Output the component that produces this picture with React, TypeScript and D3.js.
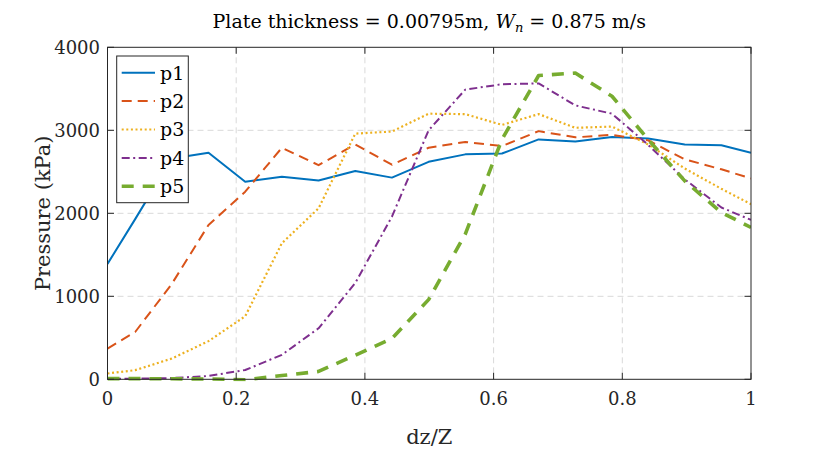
import React, { useEffect, useRef } from 'react';
import * as d3 from 'd3';

// dz/Z stations (wall ends + tap positions)
const dzZ = [0, 0.043, 0.1, 0.157, 0.214, 0.271, 0.328, 0.385, 0.442, 0.499, 0.556, 0.613, 0.67, 0.727, 0.784, 0.84, 0.897, 0.954, 1];

const p1 = [1390, 1930, 2660, 2730, 2380, 2440, 2395, 2510, 2430, 2620, 2710, 2720, 2890, 2865, 2920, 2900, 2830, 2820, 2730];
const p2 = [370, 570, 1150, 1860, 2260, 2790, 2580, 2830, 2585, 2790, 2860, 2810, 2990, 2915, 2945, 2880, 2650, 2530, 2420];
const p3 = [70, 110, 250, 460, 760, 1640, 2060, 2960, 2985, 3200, 3195, 3065, 3195, 3030, 3045, 2830, 2540, 2295, 2110];
const p4 = [8, 8, 15, 40, 112, 295, 615, 1160, 1960, 3000, 3490, 3555, 3565, 3300, 3200, 2825, 2410, 2070, 1920];
const p5 = [8, 8, 6, 4, -5, 45, 95, 290, 490, 960, 1750, 2890, 3660, 3690, 3410, 2890, 2390, 2010, 1830];

const seriesNames = ['p1', 'p2', 'p3', 'p4', 'p5'];
const seriesValues = [p1, p2, p3, p4, p5];

const xTicks = [0, 0.2, 0.4, 0.6, 0.8, 1];
const yTicks = [0, 1000, 2000, 3000, 4000];

const colors = ['#0072BD', '#D95319', '#EDB120', '#7E2F8E', '#77AC30'];
const dashes = ['none', '10,6', '2,2.6', '8,3.5,2,3.5', '12,9'];
const widths = [2, 2, 2.2, 2, 3.6];

const FONT = "'DejaVu Serif', serif";
const AXIS = '#262626';

const App: React.FC = () => {
  const svgRef = useRef<SVGSVGElement>(null);

  useEffect(() => {
    if (!svgRef.current) return;
    const svg = d3.select(svgRef.current);
    svg.selectAll('*').remove();

    const left = 107.5;
    const right = 751;
    const top = 47.3;
    const bottom = 379.3;

    const x = d3.scaleLinear().domain([0, 1]).range([left, right]);
    const y = d3.scaleLinear().domain([0, 4000]).range([bottom, top]);

    svg.append('rect').attr('width', 830).attr('height', 457).attr('fill', 'white');

    // grid
    const grid = svg.append('g').attr('stroke', '#d9d9d9').attr('stroke-width', 1).attr('stroke-dasharray', '6,4');
    xTicks.slice(1, -1).forEach((t) => {
      grid.append('line').attr('x1', x(t)).attr('x2', x(t)).attr('y1', top).attr('y2', bottom);
    });
    yTicks.slice(1, -1).forEach((t) => {
      grid.append('line').attr('x1', left).attr('x2', right).attr('y1', y(t)).attr('y2', y(t));
    });

    // series
    svg.append('clipPath').attr('id', 'plotclip')
      .append('rect').attr('x', left).attr('y', top - 2).attr('width', right - left).attr('height', bottom - top + 4);

    const line = d3.line<number>().x((_d, i) => x(dzZ[i])).y((d) => y(d));
    const lines = svg.append('g').attr('clip-path', 'url(#plotclip)');
    seriesValues.forEach((vals, i) => {
      lines.append('path')
        .attr('d', line(vals)!)
        .attr('fill', 'none')
        .attr('stroke', colors[i])
        .attr('stroke-width', widths[i])
        .attr('stroke-dasharray', dashes[i])
        .attr('stroke-linejoin', 'round');
    });

    // axes box + inward ticks on all sides
    const tickLen = 6.5;
    svg.append('rect')
      .attr('x', left).attr('y', top).attr('width', right - left).attr('height', bottom - top)
      .attr('fill', 'none').attr('stroke', AXIS).attr('stroke-width', 1);
    const ticks = svg.append('g').attr('stroke', AXIS).attr('stroke-width', 1);
    xTicks.forEach((t) => {
      ticks.append('line').attr('x1', x(t)).attr('x2', x(t)).attr('y1', bottom).attr('y2', bottom - tickLen);
      ticks.append('line').attr('x1', x(t)).attr('x2', x(t)).attr('y1', top).attr('y2', top + tickLen);
    });
    yTicks.forEach((t) => {
      ticks.append('line').attr('x1', left).attr('x2', left + tickLen).attr('y1', y(t)).attr('y2', y(t));
      ticks.append('line').attr('x1', right).attr('x2', right - tickLen).attr('y1', y(t)).attr('y2', y(t));
    });

    const txt = svg.append('g').attr('font-family', FONT).attr('fill', AXIS);
    xTicks.forEach((t) => {
      txt.append('text').attr('x', x(t)).attr('y', 405).attr('text-anchor', 'middle')
        .attr('font-size', 18).text(d3.format('')(t));
    });
    yTicks.forEach((t) => {
      txt.append('text').attr('x', left - 7.5).attr('y', y(t)).attr('dy', '0.36em').attr('text-anchor', 'end')
        .attr('font-size', 18).text(String(t));
    });

    // axis labels
    txt.append('text').attr('x', (left + right) / 2).attr('y', 444).attr('text-anchor', 'middle')
      .attr('font-size', 21).text('dz/Z');
    txt.append('text')
      .attr('transform', `translate(50,${(top + bottom) / 2}) rotate(-90)`)
      .attr('text-anchor', 'middle').attr('font-size', 21).text('Pressure (kPa)');

    // title
    const title = svg.append('text').attr('x', (left + right) / 2).attr('y', 28)
      .attr('text-anchor', 'middle').attr('font-family', FONT).attr('font-size', 19).attr('fill', '#000');
    title.append('tspan').text('Plate thickness = 0.00795m, ');
    title.append('tspan').attr('font-style', 'italic').text('W');
    title.append('tspan').attr('font-style', 'italic').attr('font-size', 13).attr('dy', 4).text('n');
    title.append('tspan').attr('dy', -4).text(' = 0.875 m/s');

    // legend
    const lg = svg.append('g');
    lg.append('rect').attr('x', 116.7).attr('y', 56).attr('width', 71.6).attr('height', 146.7)
      .attr('fill', 'white').attr('stroke', AXIS).attr('stroke-width', 1);
    seriesNames.forEach((name, i) => {
      const cy = 72.7 + i * 28.4;
      lg.append('line').attr('x1', 121.7).attr('x2', 155).attr('y1', cy).attr('y2', cy)
        .attr('stroke', colors[i]).attr('stroke-width', widths[i]).attr('stroke-dasharray', dashes[i]);
      lg.append('text').attr('x', 160).attr('y', cy).attr('dy', '0.36em')
        .attr('font-family', FONT).attr('font-size', 19).attr('fill', '#000').text(name);
    });
  }, []);

  return (
    <div>
      <svg ref={svgRef} width={830} height={457} style={{ position: 'absolute', left: 0, top: 0 }}></svg>
    </div>
  );
};

export default App;
